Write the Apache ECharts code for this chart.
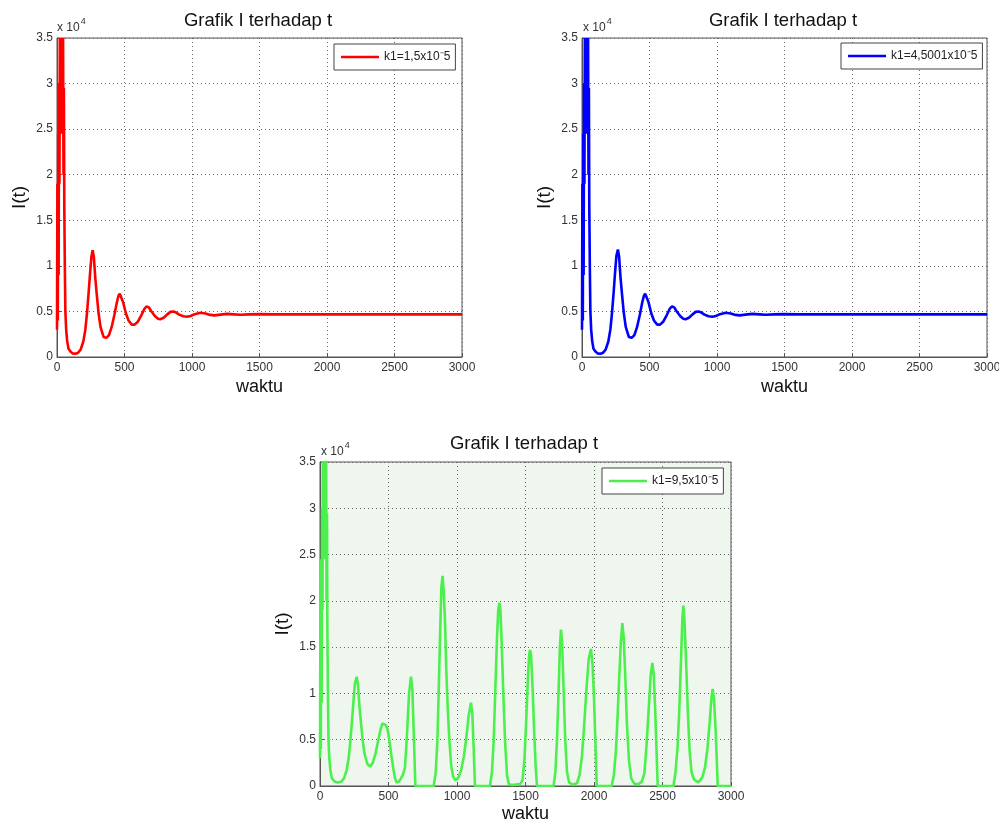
<!DOCTYPE html>
<html><head><meta charset="utf-8">
<script src="https://cdn.jsdelivr.net/npm/echarts@6/dist/echarts.min.js"></script>
<style>html,body{margin:0;padding:0;background:#fff}#c{width:999px;height:823px}</style>
</head><body><div id="c"></div>
<script>
// ---------- data ----------
const xTickValues = [0, 500, 1000, 1500, 2000, 2500, 3000];
const xTickLabels = ['0', '500', '1000', '1500', '2000', '2500', '3000'];
const yTickValues = [0, 5000, 10000, 15000, 20000, 25000, 30000, 35000];
const yTickLabels = ['0', '0.5', '1', '1.5', '2', '2.5', '3', '3.5'];
const seriesNames = ['k1=1,5x10\u207B5', 'k1=4,5001x10\u207B5', 'k1=9,5x10\u207B5'];
const chartTitle = 'Grafik I terhadap t';

const timeRed = [0,3,6,9,12,15,18,21,24,27,30,33,36,39,42,45,48,51,54,58,62,68,75,85,100,115,134,155,175,195,210,222,234,245,255,264,273,283,295,308,322,345,365,385,405,425,442,455,465,475,490,510,530,554,575,600,625,648,665,680,700,725,748,765,790,815,840,860,880,905,935,963,990,1020,1062,1100,1135,1165,1210,1260,1310,1360,1420,1500,1600,1800,2000,2500,3000];
const valueRed = [3000,19000,4000,24500,9000,30000,19000,35000,25000,35000,29500,35000,24500,35000,29500,35000,20000,29500,16500,10000,5000,3000,1800,900,600,400,360,450,800,1700,3000,4800,7000,9200,11000,11700,11000,8800,6800,4800,3300,2200,2100,2400,3300,4600,5900,6700,6950,6800,6000,4800,4000,3550,3550,3900,4600,5300,5550,5450,5000,4500,4200,4150,4300,4650,4950,5000,4900,4650,4470,4420,4500,4700,4850,4780,4620,4570,4650,4730,4680,4630,4680,4700,4680,4680,4680,4680,4680];

const timeBlue = [0,3,6,9,12,15,18,21,24,27,30,33,36,39,42,45,48,51,54,58,62,68,75,85,100,115,134,155,175,195,210,222,234,245,255,266,275,285,297,310,324,347,368,388,408,428,445,458,468,478,493,513,533,557,578,603,628,650,667,682,702,727,750,767,792,817,842,862,882,907,937,965,992,1022,1064,1102,1137,1167,1212,1262,1312,1362,1422,1500,1600,1800,2000,2500,3000];
const valueBlue = [3000,19000,4000,24500,9000,30000,19000,35000,25000,35000,29500,35000,24500,35000,29500,35000,20000,29500,16500,10000,5000,3000,1800,900,600,400,360,450,800,1700,3000,4800,7000,9300,11100,11800,11000,8800,6800,4800,3300,2200,2100,2400,3300,4600,5900,6700,6950,6800,6000,4800,4000,3550,3550,3900,4600,5300,5550,5450,5000,4500,4200,4150,4300,4650,4950,5000,4900,4650,4470,4420,4500,4700,4850,4780,4620,4570,4650,4730,4680,4630,4680,4700,4680,4680,4680,4680,4680];

const timeGreen = [0,3,6,9,12,15,18,21,24,27,30,33,36,39,42,45,48,51,54,58,62,68,75,85,100,115,134,155,175,195,210,222,234,245,255,268,277,287,298,311,325,345,365,385,405,426,442,455,467,478,492,506,520,535,548,560,575,590,605,620,633,650,664,674,686,696,760,830,845,857,866,876,886,895,903,912,922,932,944,958,972,990,1010,1030,1050,1068,1085,1102,1112,1122,1131,1241,1255,1268,1280,1292,1301,1309,1317,1326,1338,1352,1365,1378,1400,1430,1460,1478,1492,1505,1518,1527,1533,1541,1552,1563,1574,1584,1705,1718,1730,1741,1751,1759,1767,1778,1790,1803,1818,1845,1875,1895,1912,1928,1945,1962,1978,1990,2000,2010,2020,2129,2145,2160,2172,2184,2196,2207,2217,2228,2240,2255,2272,2295,2325,2350,2368,2384,2400,2414,2426,2436,2446,2456,2465,2580,2595,2610,2622,2635,2645,2652,2660,2672,2685,2698,2712,2730,2761,2790,2810,2828,2845,2858,2866,2876,2888,2897,2903,3000];
const valueGreen = [3000,19000,4000,24500,9000,30000,19000,35000,25000,35000,29500,35000,24500,35000,29500,35000,20000,29500,16500,10000,5000,3000,1800,900,600,420,380,470,820,1750,3100,4900,7100,9300,11100,11800,11000,8800,7000,5000,3500,2400,2100,2500,3500,5000,6100,6750,6950,6600,6200,5000,3400,1900,800,380,450,800,1200,2000,5000,10000,11800,10500,5000,0,0,0,1500,5000,10000,16000,21500,22700,21000,18000,12500,8500,5000,2200,1000,600,900,1700,3200,5200,7600,9000,7800,4000,0,0,1500,5000,10500,16000,19000,19800,19000,15500,10000,4500,1200,200,100,150,200,600,2800,7000,11800,14200,14700,14000,10500,6000,2200,0,0,1500,5000,10000,15000,16900,15500,10500,5000,1500,400,150,300,1200,3200,6500,10500,13800,14800,13000,9500,4800,0,0,1200,3800,7500,11700,15500,17600,16000,12000,6800,2800,800,250,200,500,1400,4500,8500,12000,13300,12000,8500,4000,0,0,1500,4200,8000,13500,18000,19500,18000,13500,8000,3800,1500,700,400,900,2000,4000,7000,9600,10500,9400,6000,2500,0,0];

// ---------- build ----------
function zip(ts, vs) { return ts.map((t, i) => [t, vs[i]]); }
const panels = [
  { grid: { left: 57, top: 38, width: 405, height: 319 }, titleX: 258, titleY: 21, expX: 57, expY: 17, legend: { left: 334, top: 44 }, color: '#ff0000', data: zip(timeRed, valueRed), bg: '#ffffff', nameGapX: 21 },
  { grid: { left: 582, top: 38, width: 405, height: 319 }, titleX: 783, titleY: 21, expX: 583, expY: 17, legend: { left: 841, top: 43 }, color: '#0000ff', data: zip(timeBlue, valueBlue), bg: '#ffffff', nameGapX: 21 },
  { grid: { left: 320, top: 462, width: 411, height: 324 }, titleX: 524, titleY: 444, expX: 321, expY: 441, legend: { left: 602, top: 468 }, color: '#4cf04c', data: zip(timeGreen, valueGreen), bg: '#eef6ee', nameGapX: 19 }
];

const font = '"Liberation Sans", Arial, Helvetica, sans-serif';
const option = {
  animation: false,
  backgroundColor: '#ffffff',
  textStyle: { fontFamily: font },
  title: [], legend: [], grid: [], xAxis: [], yAxis: [], series: []
};

panels.forEach((p, i) => {
  option.title.push({
    text: chartTitle, left: p.titleX, top: p.titleY, padding: 0,
    textAlign: 'center', textVerticalAlign: 'middle',
    textStyle: { fontSize: 18.5, fontWeight: 'normal', color: '#111', fontFamily: font }
  });
  option.title.push({
    text: '{a|x 10}{b|4}', left: p.expX, top: p.expY, padding: 0,
    textStyle: { fontFamily: font, fontWeight: 'normal', rich: {
      a: { fontSize: 12, color: '#333', lineHeight: 17, verticalAlign: 'bottom', fontFamily: font, fontWeight: 'normal' },
      b: { fontSize: 9, color: '#333', lineHeight: 17, verticalAlign: 'top', fontFamily: font, fontWeight: 'normal', padding: [0, 0, 0, 1] }
    } }
  });
  option.grid.push(Object.assign({
    show: true, borderColor: '#555', borderWidth: 1, backgroundColor: p.bg,
    containLabel: false, outerBoundsMode: 'none'
  }, p.grid));
  option.legend.push({
    data: [{ name: seriesNames[i], icon: 'rect' }], left: p.legend.left, top: p.legend.top,
    padding: [6, 5, 6, 7], itemWidth: 38, itemHeight: 2.5, itemGap: 0,
    backgroundColor: '#fff', borderColor: '#444', borderWidth: 1, borderRadius: 0,
    selectedMode: false,
    textStyle: { fontSize: 12, color: '#222', fontFamily: font, lineHeight: 14 }
  });
  option.xAxis.push({
    type: 'value', gridIndex: i,
    min: xTickValues[0], max: xTickValues[xTickValues.length - 1],
    interval: xTickValues[1] - xTickValues[0],
    name: 'waktu', nameLocation: 'middle', nameGap: p.nameGapX,
    nameTextStyle: { fontSize: 18, color: '#111', fontFamily: font },
    axisLine: { show: true, onZero: false, lineStyle: { color: '#555', width: 1 } },
    axisTick: { show: true, inside: true, length: 4, lineStyle: { color: '#555' } },
    axisLabel: { fontSize: 12, color: '#333', margin: 5, fontFamily: font,
      formatter: v => { const k = xTickValues.indexOf(v); return k >= 0 ? xTickLabels[k] : ''; } },
    splitLine: { show: true, lineStyle: { type: [1, 3], color: '#666', width: 1 } }
  });
  option.yAxis.push({
    type: 'value', gridIndex: i,
    min: yTickValues[0], max: yTickValues[yTickValues.length - 1],
    interval: yTickValues[1] - yTickValues[0],
    name: 'I(t)', nameLocation: 'middle', nameGap: 28, nameRotate: 90,
    nameTextStyle: { fontSize: 19, color: '#111', fontFamily: font },
    axisLine: { show: true, onZero: false, lineStyle: { color: '#555', width: 1 } },
    axisTick: { show: true, inside: true, length: 4, lineStyle: { color: '#555' } },
    axisLabel: { fontSize: 12, color: '#333', margin: 4, fontFamily: font,
      formatter: v => { const k = yTickValues.indexOf(v); return k >= 0 ? yTickLabels[k] : ''; } },
    splitLine: { show: true, lineStyle: { type: [1, 3], color: '#666', width: 1 } }
  });
  option.series.push({
    name: seriesNames[i], type: 'line', xAxisIndex: i, yAxisIndex: i,
    data: p.data, symbol: 'none', showSymbol: false, clip: true,
    lineStyle: { color: p.color, width: 2.6 }, itemStyle: { color: p.color },
    z: 3
  });
});

const chart = echarts.init(document.getElementById('c'), null, { renderer: 'canvas' });
chart.setOption(option);
</script>
</body></html>
